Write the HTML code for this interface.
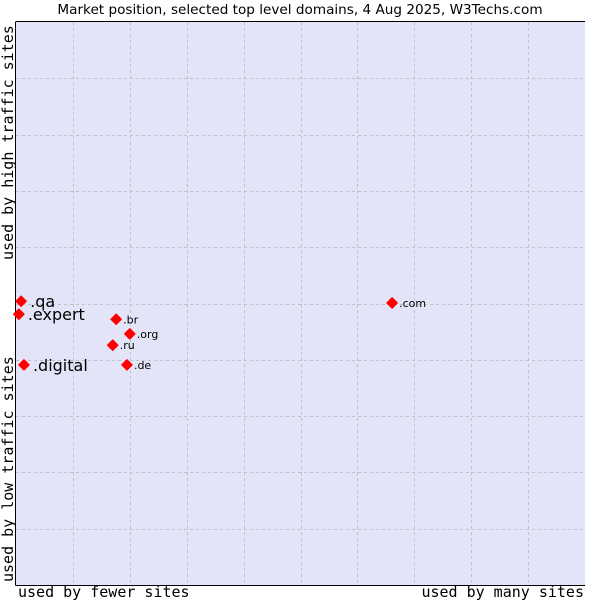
<!DOCTYPE html>
<html><head><meta charset="utf-8"><style>
body{margin:0;background:#fff;}
svg{display:block;}
</style></head><body>
<svg id="chart" width="600" height="600" viewBox="0 0 600 600" xmlns="http://www.w3.org/2000/svg">
<rect width="600" height="600" fill="#fff"/>
<text x="300" y="14" text-anchor="middle" font-family="DejaVu Sans, sans-serif" font-size="13.6" fill="#000">Market position, selected top level domains, 4 Aug 2025, W3Techs.com</text>
<rect x="16" y="22" width="569" height="563" fill="#e3e4f7"/>
<g id="grid"></g>
<line x1="15.5" y1="22" x2="15.5" y2="585.5" stroke="#000"/>
<line x1="15.5" y1="585.5" x2="585" y2="585.5" stroke="#000"/>
<line x1="15.5" y1="21.5" x2="585" y2="21.5" stroke="#000"/>
<g id="points"></g>
<text x="18" y="597" font-family="DejaVu Sans Mono, monospace" font-size="15" fill="#000">used by fewer sites</text>
<text x="584" y="597" text-anchor="end" font-family="DejaVu Sans Mono, monospace" font-size="15" fill="#000">used by many sites</text>
<text transform="translate(13,582) rotate(-90)" font-family="DejaVu Sans Mono, monospace" font-size="15" fill="#000">used by low traffic sites</text>
<text transform="translate(13,260) rotate(-90)" font-family="DejaVu Sans Mono, monospace" font-size="15" fill="#000">used by high traffic sites</text>
</svg>
<script>
const domains = [".qa", ".expert", ".br", ".org", ".ru", ".digital", ".de", ".com"];
const siteShare = [0.09, 0.05, 1.76, 2.0, 1.70, 0.14, 1.95, 6.61];
const trafficLevel = [5.04, 4.81, 4.72, 4.46, 4.26, 3.91, 3.91, 5.01];
const highlighted = [true, true, false, false, false, true, false, false];
const gridTicks = [1,2,3,4,5,6,7,8,9];

const NS = "http://www.w3.org/2000/svg";
const X0 = 16, X1 = 585, Y0 = 585, Y1 = 22;
function xScale(v){ return X0 + v/10*(X1-X0); }
function yScale(v){ return Y0 - v/10*(Y0-Y1); }

const grid = document.getElementById('grid');
gridTicks.forEach(t => {
  const vx = document.createElementNS(NS,'line');
  
  
  const x = Math.round(xScale(t)) + 0.5;
  vx.setAttribute('x1', x); vx.setAttribute('x2', x);
  vx.setAttribute('y1', Y1); vx.setAttribute('y2', Y0);
  vx.setAttribute('stroke', '#c0c0c8'); vx.setAttribute('stroke-dasharray', '3,3');
  grid.appendChild(vx);
  const hy = document.createElementNS(NS,'line');
  
  
  const y = Math.round(yScale(t)) + 0.5;
  hy.setAttribute('x1', X0); hy.setAttribute('x2', X1);
  hy.setAttribute('y1', y); hy.setAttribute('y2', y);
  hy.setAttribute('stroke', '#c0c0c8'); hy.setAttribute('stroke-dasharray', '3,3');
  grid.appendChild(hy);
});

const pts = document.getElementById('points');
domains.forEach((d, i) => {
  const x = xScale(siteShare[i]), y = yScale(trafficLevel[i]);
  const m = document.createElementNS(NS,'polygon');
  
  
  m.setAttribute('points', `${x},${y-5} ${x+5},${y} ${x},${y+5} ${x-5},${y}`);
  m.setAttribute('fill', '#ff0000');
  m.setAttribute('stroke', '#ff0000');
  m.setAttribute('stroke-linejoin', 'round');
  m.setAttribute('stroke-width', '1.5');
  pts.appendChild(m);
  const t = document.createElementNS(NS,'text');
  
  
  const big = highlighted[i];
  t.setAttribute('x', x + (big ? 9 : 7));
  t.setAttribute('y', y + (big ? 6 : 4));
  t.setAttribute('font-family', 'DejaVu Sans, sans-serif');
  t.setAttribute('font-size', big ? '16' : '11');
  t.setAttribute('fill', '#000');
  t.textContent = d;
  pts.appendChild(t);
});
</script>
</body></html>
